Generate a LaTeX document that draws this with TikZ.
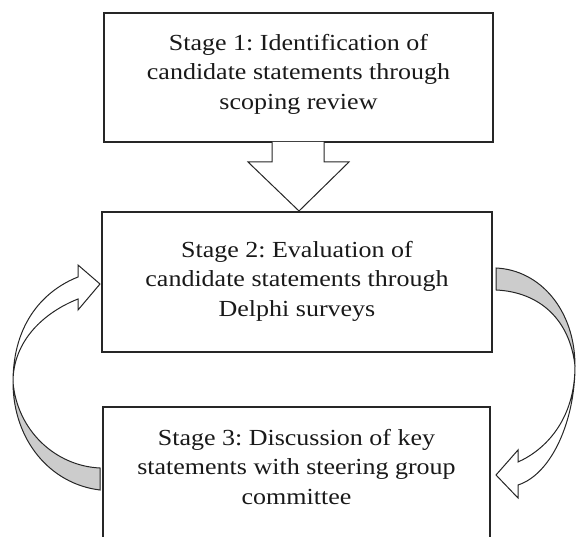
\documentclass[tikz,border=0pt]{standalone}
\usepackage{fontspec}
\setmainfont[FakeStretch=1.13]{Liberation Serif}
\frenchspacing
\begin{document}
\begin{tikzpicture}[x=1pt,y=-1pt,
  box/.style={draw=black!85, line width=1.2pt, fill=white, inner sep=0pt},
  txt/.style={align=center, font=\fontsize{23}{29.5}\selectfont, text=black!90},
  blk/.style={draw=black!85, line width=1pt, line join=miter, fill=white},
  shade/.style={draw=black!85, line width=1pt, fill=black!20}]
\useasboundingbox (0,0) rectangle (576,537);
\clip (0,0) rectangle (576,537);
% boxes
\node[box, minimum width=389pt, minimum height=129pt] (s1) at (298.5,77.5) {};
\node[txt] (t1) at (298.5,74) {Stage 1: Identification of\\candidate statements through\\scoping review};
\node[box, minimum width=390pt, minimum height=140pt] (s2) at (297,282) {};
\node[txt] (t2) at (297,281) {Stage 2: Evaluation of\\candidate statements through\\Delphi surveys};
\node[box, minimum width=387pt, minimum height=160pt] (s3) at (296.5,487) {};
\node[txt] (t3) at (296.5,467) {Stage 3: Discussion of key\\statements with steering group\\committee};
% down block arrow
\draw[blk] (272,142) -- (272,162) -- (248,162) -- (299,211) -- (349,162) -- (324,162) -- (324,142);
% left curved arrow (stage 3 -> stage 2)
\draw[shade] (100,490) .. controls (50,484) and (13,440) .. (13,382)
  .. controls (17,430) and (55,466) .. (100,468) -- cycle;
\draw[blk] (13,382) .. controls (13,322) and (45,290) .. (78,277)
  -- (78,265) -- (100,284) -- (78,310) -- (78,299)
  .. controls (45,312) and (13,340) .. (13,382) -- cycle;
% right curved arrow (stage 2 -> stage 3)
\draw[shade] (496,268) .. controls (540,270) and (575,310) .. (575,366)
  .. controls (570,320) and (540,292) .. (496,290) -- cycle;
\draw[blk] (575,366) .. controls (575,420) and (552,474) .. (518,485)
  -- (518,498) -- (496,475) -- (518,450) -- (518,462)
  .. controls (545,450) and (575,420) .. (575,366) -- cycle;
\end{tikzpicture}
\end{document}
